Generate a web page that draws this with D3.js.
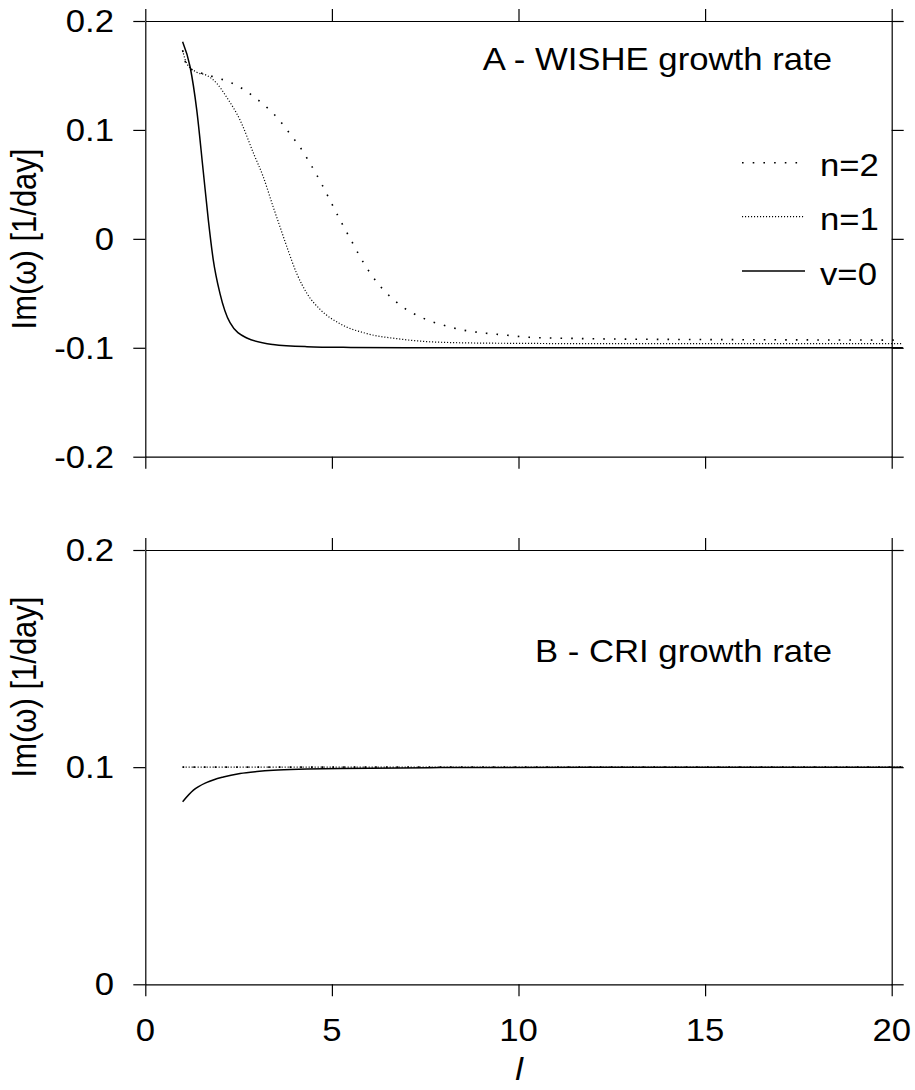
<!DOCTYPE html>
<html>
<head>
<meta charset="utf-8">
<script src="https://cdn.jsdelivr.net/npm/d3@7"></script>
<style>
  body { margin: 0; background: #fff; }
  svg text { font-family: "Liberation Sans", Arial, sans-serif; fill: #000; }
</style>
</head>
<body>
<svg id="chart" width="915" height="1090"></svg>
<script>
// panel A - WISHE growth rate
const lV0 = [1.0, 1.2, 1.38, 1.55, 1.69, 1.82, 2.0, 2.27, 2.72, 3.42, 4.33, 5.5, 7, 10, 15, 20.3];
const imV0 = [0.181, 0.158, 0.118, 0.063, 0.017, -0.019, -0.050, -0.077, -0.091, -0.097, -0.099, -0.0997, -0.1, -0.1, -0.1, -0.1];

const lN1 = [1.0, 1.11, 1.38, 1.65, 1.91, 2.18, 2.54, 2.90, 3.16, 3.43, 3.61, 3.79, 4.06, 4.33, 4.69, 5.22, 5.94, 6.83, 7.63, 8.97, 9.86, 11.65, 15, 20.3];
const imN1 = [0.173, 0.161, 0.153, 0.150, 0.143, 0.130, 0.109, 0.0785, 0.057, 0.029, 0.011, -0.007, -0.032, -0.050, -0.065, -0.078, -0.087, -0.092, -0.0945, -0.0957, -0.0959, -0.0962, -0.0962, -0.0962];

const lN2 = [1.0, 1.13, 1.35, 1.61, 1.90, 2.18, 2.44, 2.69, 2.92, 3.15, 3.37, 3.57, 3.75, 3.93, 4.11, 4.42, 4.70, 4.97, 5.24, 5.51, 5.78, 6.10, 6.47, 6.92, 7.43, 7.97, 8.54, 9.13, 9.70, 10.29, 11.44, 12.59, 14, 17, 20.3];
const imN2 = [0.173, 0.158, 0.154, 0.151, 0.148, 0.145, 0.141, 0.136, 0.130, 0.124, 0.117, 0.110, 0.102, 0.094, 0.086, 0.069, 0.052, 0.034, 0.016, -0.001, -0.018, -0.035, -0.050, -0.063, -0.0726, -0.0791, -0.0839, -0.0866, -0.0885, -0.0904, -0.0914, -0.0920, -0.0923, -0.0927, -0.093];

// panel B - CRI growth rate
const lCriV0 = [1.0, 1.29, 1.65, 2.09, 2.54, 2.99, 3.43, 4.33, 5.22, 7.9, 12, 20.3];
const imCriV0 = [0.0841, 0.0894, 0.0930, 0.0955, 0.0971, 0.0980, 0.0986, 0.0991, 0.0994, 0.0998, 0.1, 0.1];
const lCriN = [1.0, 20.3];
const imCriN = [0.1, 0.1];

const xTicks = [0, 5, 10, 15, 20];
const yTicksA = [-0.2, -0.1, 0, 0.1, 0.2];
const yTicksB = [0, 0.1, 0.2];
const legendNames = ['n=2', 'n=1', 'v=0'];

const styles = {
    n2: { width: 1.6, dash: '1.6 9.1' },
    n1: { width: 1.2, dash: '1.1 1.9' },
    v0: { width: 1.5, dash: null },
};

const svg = d3.select('#chart');
const FS = 31;      // font size
const SX = 1.12;    // the original is stretched sideways a bit

const x = d3.scaleLinear().domain([0, 20]).range([145.3, 891.7]);

function addText(g, str, px, py, anchor, opts) {
    opts = opts || {};
    const t = g.append('text')
        .attr('transform', `translate(${px},${py})` + (opts.rotate ? ` rotate(-90) scale(1,${SX})` : ` scale(${SX},1)`))
        .attr('text-anchor', anchor)
        .attr('font-size', opts.size || FS)
        .text(str);
    if (opts.italic) t.attr('font-style', 'italic');
    if (opts.dy) t.attr('dy', opts.dy);
    return t;
}

function panel(yDomain, yRange, yTicks, showXLabels) {
    const y = d3.scaleLinear().domain(yDomain).range(yRange);
    const g = svg.append('g');

    const top = g.append('g').attr('transform', `translate(0,${yRange[1]})`)
        .call(d3.axisTop(x).tickValues(xTicks).tickSize(12).tickSizeOuter(0).tickFormat(''));
    const bottom = g.append('g').attr('transform', `translate(0,${yRange[0]})`)
        .call(d3.axisBottom(x).tickValues(xTicks).tickSize(12).tickSizeOuter(0).tickFormat(''));
    const left = g.append('g').attr('transform', `translate(${x(0)},0)`)
        .call(d3.axisLeft(y).tickValues(yTicks).tickSize(12).tickSizeOuter(0).tickFormat(''));
    const right = g.append('g').attr('transform', `translate(${x(20)},0)`)
        .call(d3.axisRight(y).tickValues(yTicks).tickSize(12).tickSizeOuter(0).tickFormat(''));

    [top, bottom, left, right].forEach(a => {
        a.selectAll('path, line').attr('stroke', '#000').attr('stroke-width', 1.2);
    });

    // tick labels, plain hyphen for the minus sign as in the original
    yTicks.forEach(v => {
        addText(g, String(+v.toFixed(1)), 114, y(v), 'end', { dy: '0.35em' });
    });
    if (showXLabels) {
        xTicks.forEach(v => addText(g, String(v), x(v), yRange[0] + 57, 'middle'));
    }
    return y;
}

function drawLine(y, ls, vs, st) {
    const pts = ls.map((l, i) => [l, vs[i]]);
    const line = d3.line().x(d => x(d[0])).y(d => y(d[1])).curve(d3.curveMonotoneX);
    const p = svg.append('path')
        .datum(pts)
        .attr('d', line)
        .attr('fill', 'none')
        .attr('stroke', '#000')
        .attr('stroke-width', st.width);
    if (st.dash) p.attr('stroke-dasharray', st.dash);
}

// top panel
const yA = panel([-0.2, 0.2], [456.7, 21], yTicksA, false);
drawLine(yA, lN2, imN2, styles.n2);
drawLine(yA, lN1, imN1, styles.n1);
drawLine(yA, lV0, imV0, styles.v0);

addText(svg, 'A - WISHE growth rate', 832, 70, 'end');
addText(svg, 'Im(ω) [1/day]', 36, 239, 'middle', { rotate: true });

// legend
const legendStyles = [styles.n2, styles.n1, styles.v0];
const legendY = [162.7, 216.7, 271];
legendNames.forEach((name, i) => {
    const st = legendStyles[i];
    const ln = svg.append('line')
        .attr('x1', 742).attr('x2', 805)
        .attr('y1', legendY[i]).attr('y2', legendY[i])
        .attr('stroke', '#000').attr('stroke-width', st.width);
    if (st.dash) ln.attr('stroke-dasharray', st.dash);
    addText(svg, name, 820, legendY[i] + 13.5, 'start');
});

// bottom panel
const yB = panel([0, 0.2], [984.3, 550], yTicksB, true);
drawLine(yB, lCriN, imCriN, styles.n2);
drawLine(yB, lCriN, imCriN, styles.n1);
drawLine(yB, lCriV0, imCriV0, styles.v0);

addText(svg, 'B - CRI growth rate', 832, 662, 'end');
addText(svg, 'Im(ω) [1/day]', 36, 687, 'middle', { rotate: true });

// x axis title
addText(svg, 'l', 519, 1080, 'middle', { italic: true });
</script>
</body>
</html>
